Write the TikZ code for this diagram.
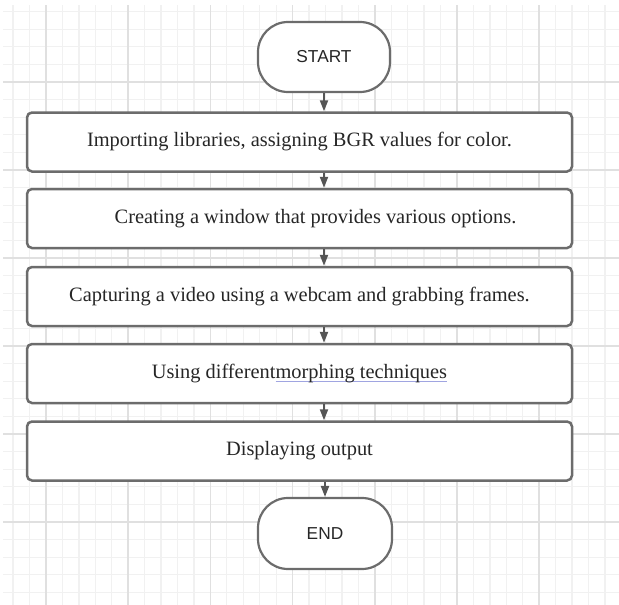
\documentclass[tikz,border=0pt]{standalone}
\usepackage{fontspec}
\setmainfont{Liberation Serif}
\newfontfamily\capsfont{Liberation Sans}
\usetikzlibrary{arrows.meta}

\definecolor{gridminor}{RGB}{241,241,241}
\definecolor{gridmajor}{RGB}{224,224,224}
\definecolor{boxline}{RGB}{108,108,108}
\definecolor{arrowgray}{RGB}{85,85,85}
\definecolor{inkgray}{RGB}{38,38,38}
\definecolor{markblue}{RGB}{160,165,225}

\newsavebox\marksbox
\newcommand\spellmark[1]{\sbox\marksbox{#1}\rlap{\textcolor{markblue}{\rule[-3.5pt]{\wd\marksbox}{0.9pt}}}\usebox\marksbox}

\begin{document}
\begin{tikzpicture}[>={Triangle[width=8pt,length=11pt]},x=1pt,y=-1pt,
 stepbox/.style={draw=boxline,line width=2.5pt,rounded corners=5pt,fill=white,minimum width=545pt,minimum height=59pt,inner sep=0pt,text=inkgray,font=\fontsize{20.4}{24}\selectfont},
 term/.style={draw=boxline,line width=2.2pt,rounded corners=30pt,fill=white,minimum width=132pt,minimum height=70pt,inner sep=0pt,text=inkgray,font=\capsfont\fontsize{17.3}{20}\selectfont},
 flow/.style={->,draw=arrowgray,fill=arrowgray,line width=2pt}]
\useasboundingbox (0,0) rectangle (619,605);
% background grid
\foreach \k in {-2,...,34}
  \draw[gridminor,line width=1.3pt] ({46+16.44*\k},5) -- ({46+16.44*\k},605);
\foreach \k in {-4,...,29}
  \draw[gridminor,line width=1.3pt] (3,{82+17.6*\k}) -- (619,{82+17.6*\k});
\foreach \k in {0,5,...,30}
  \draw[gridmajor,line width=1.5pt] ({46+16.44*\k},5) -- ({46+16.44*\k},605);
\foreach \k in {0,5,...,25}
  \draw[gridmajor,line width=1.5pt] (3,{82+17.6*\k}) -- (619,{82+17.6*\k});
% flow chart
\node[term] (start) at (324,57) {START};
\node[stepbox] (b1) at (299.5,142) {Importing libraries, assigning BGR values for color.};
\node[stepbox] (b2) at (299.5,218.5) {\hspace*{32pt}Creating a window that provides various options.};
\node[stepbox] (b3) at (299.5,296.5) {Capturing a video using a webcam and grabbing frames.};
\node[stepbox] (b4) at (299.5,373.5) {Using different\spellmark{morphing techniques}};
\node[stepbox] (b5) at (299.5,451) {Displaying output};
\node[term,minimum width=134pt,minimum height=71pt] (end) at (325,533.5) {END};
\draw[flow] (start.south) -- (start.south |- b1.north);
\draw[flow] (b1.south -| start) -- (b2.north -| start);
\draw[flow] (b2.south -| start) -- (b3.north -| start);
\draw[flow] (b3.south -| start) -- (b4.north -| start);
\draw[flow] (b4.south -| start) -- (b5.north -| start);
\draw[flow] (b5.south -| end) -- (end.north);
\end{tikzpicture}
\end{document}
